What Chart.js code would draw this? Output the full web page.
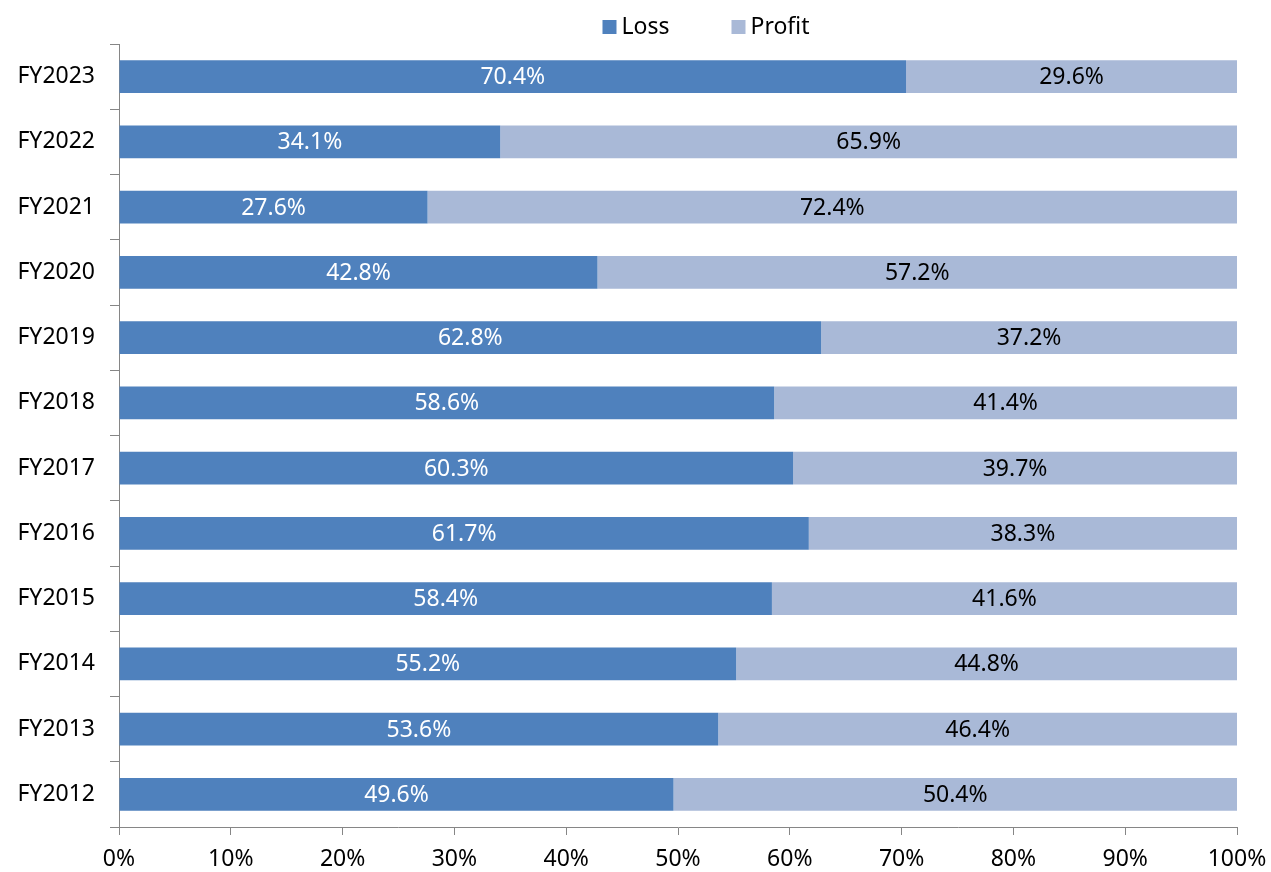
<!DOCTYPE html>
<html>
<head>
<meta charset="utf-8">
<script src="https://cdn.jsdelivr.net/npm/chart.js@4"></script>
<style>
  html, body { margin: 0; padding: 0; background: #fff; }
</style>
</head>
<body>
<canvas id="chart" width="1271" height="872"></canvas>
<script>
// Fiscal years, top to bottom
const years = ['FY2023', 'FY2022', 'FY2021', 'FY2020', 'FY2019', 'FY2018',
               'FY2017', 'FY2016', 'FY2015', 'FY2014', 'FY2013', 'FY2012'];
const lossPct = [70.4, 34.1, 27.6, 42.8, 62.8, 58.6, 60.3, 61.7, 58.4, 55.2, 53.6, 49.6];
const profitPct = [29.6, 65.9, 72.4, 57.2, 37.2, 41.4, 39.7, 38.3, 41.6, 44.8, 46.4, 50.4];
const xTicks = [0, 10, 20, 30, 40, 50, 60, 70, 80, 90, 100];

const colors = {
    loss: '#4F81BD',
    profit: '#A9B9D7',
    axis: '#868686',
};

const fontFamily = '"Noto Sans", "DejaVu Sans", sans-serif';
const fontSize = 23;
Chart.defaults.font.family = fontFamily;
Chart.defaults.font.size = fontSize;
Chart.defaults.color = '#000';

// value labels centred in each segment
const barLabels = {
    id: 'barLabels',
    afterDatasetsDraw(chart) {
        const ctx = chart.ctx;
        ctx.save();
        ctx.font = fontSize + 'px ' + fontFamily;
        ctx.textAlign = 'center';
        ctx.textBaseline = 'middle';
        chart.data.datasets.forEach((ds, i) => {
            const meta = chart.getDatasetMeta(i);
            ctx.fillStyle = ds.labelColor;
            meta.data.forEach((bar, j) => {
                const cx = (bar.x + bar.base) / 2;
                ctx.fillText(ds.data[j].toFixed(1) + '%', cx, bar.y + 1);
            });
        });
        ctx.restore();
    }
};

// legend drawn by hand so the spacing matches the original
const topLegend = {
    id: 'topLegend',
    afterDraw(chart) {
        const ctx = chart.ctx;
        ctx.save();
        ctx.font = fontSize + 'px ' + fontFamily;
        ctx.textBaseline = 'middle';
        const box = 14, gap = 5, itemGap = 62, y = 27;
        const items = chart.data.datasets.map(ds => ({ text: ds.label, color: ds.backgroundColor }));
        const widths = items.map(it => box + gap + ctx.measureText(it.text).width);
        const total = widths.reduce((a, b) => a + b, 0) + itemGap * (items.length - 1);
        let x = chart.chartArea.left + (chart.chartArea.right - chart.chartArea.left) / 2 - total / 2 + 28;
        items.forEach((it, i) => {
            ctx.fillStyle = it.color;
            ctx.fillRect(x, y - box / 2, box, box);
            ctx.fillStyle = '#000';
            ctx.fillText(it.text, x + box + gap, y);
            x += widths[i] + itemGap;
        });
        ctx.restore();
    }
};

new Chart(document.getElementById('chart'), {
    type: 'bar',
    data: {
        labels: years,
        datasets: [
            {
                label: 'Loss',
                data: lossPct,
                backgroundColor: colors.loss,
                labelColor: '#fff',
                categoryPercentage: 1,
                barPercentage: 0.5,
            },
            {
                label: 'Profit',
                data: profitPct,
                backgroundColor: colors.profit,
                labelColor: '#000',
                categoryPercentage: 1,
                barPercentage: 0.5,
            }
        ]
    },
    options: {
        indexAxis: 'y',
        responsive: false,
        animation: false,
        layout: {
            padding: { left: 0, right: 34, top: 44, bottom: 0 }
        },
        plugins: {
            legend: { display: false },
            tooltip: { enabled: false }
        },
        scales: {
            x: {
                stacked: true,
                min: 0,
                max: 100,
                afterBuildTicks(axis) {
                    axis.ticks = xTicks.map(v => ({ value: v }));
                },
                afterFit(axis) {
                    axis.height = 45;
                    axis.paddingLeft = 0;
                    axis.paddingRight = 0;
                },
                ticks: {
                    callback: v => v + '%',
                    padding: 11,
                    maxRotation: 0,
                },
                grid: {
                    drawOnChartArea: false,
                    tickLength: 8,
                    color: colors.axis,
                },
                border: { color: colors.axis, width: 1 }
            },
            y: {
                stacked: true,
                afterFit(axis) {
                    axis.width = 119;
                },
                ticks: { padding: 15 },
                grid: {
                    drawOnChartArea: false,
                    offset: true,
                    tickLength: 9,
                    color: colors.axis,
                },
                border: { color: colors.axis, width: 1 }
            }
        }
    },
    plugins: [barLabels, topLegend]
});
</script>
</body>
</html>
